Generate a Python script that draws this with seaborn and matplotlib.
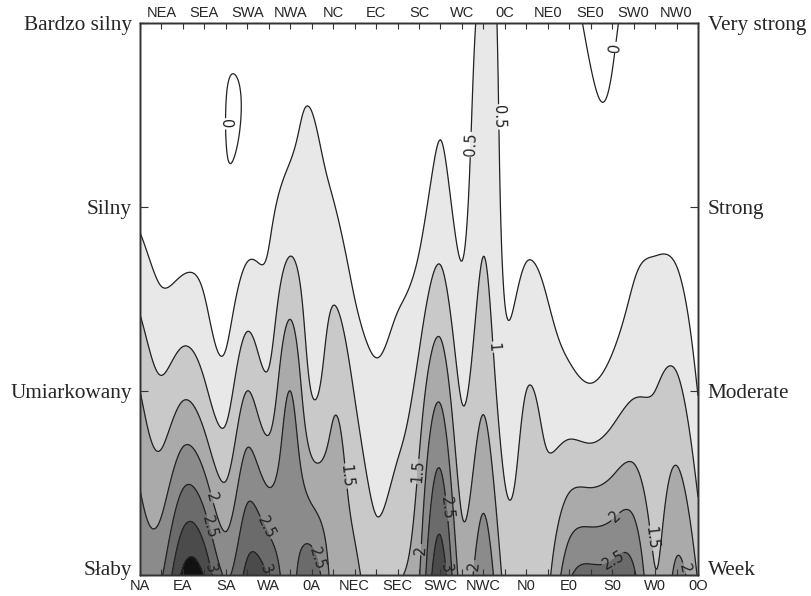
import numpy as np
import seaborn as sns
import matplotlib
matplotlib.use("Agg")
import matplotlib.pyplot as plt

# wind direction / circulation type categories (x axis)
categories = ["NA", "NEA", "EA", "SEA", "SA", "SWA", "WA", "NWA", "0A",
              "NC", "NEC", "EC", "SEC", "SC", "SWC", "WC", "NWC", "0C",
              "N0", "NE0", "E0", "SE0", "S0", "SW0", "W0", "NW0", "0O"]

# intensity classes (y axis), bottom to top
levels_pl = ["Słaby", "Umiarkowany", "Silny", "Bardzo silny"]
levels_en = ["Week", "Moderate", "Strong", "Very strong"]

# values read for each intensity class
slaby = [2.35, 2.45, 3.6, 3.45, 2.45, 3.15, 2.95, 2.35, 2.85,
         1.8, 1.6, 1.2, 1.45, 1.95, 3.3, 1.78, 2.35, 1.35,
         1.3, 1.4, 2.4, 2.65, 2.68, 2.6, 1.52, 2.1, 1.45]
umiarkowany = [1.5, 1.1, 1.4, 1.1, 0.75, 1.5, 1.15, 2.0, 0.98,
               1.4, 0.97, 0.6, 0.75, 1.2, 1.9, 0.95, 1.4, 0.7,
               1.0, 0.8, 0.65, 0.55, 0.72, 0.95, 1.0, 1.1, 0.48]
silny = [0.38, 0.2, 0.2, 0.25, 0.05, 0.22, 0.4, 0.68, 0.62,
         0.53, 0.14, 0.15, 0.25, 0.32, 0.7, 0.38, 0.9, 0.38,
         0.32, 0.25, 0.2, 0.1, 0.13, 0.35, 0.35, 0.3, 0.05]
bardzo_silny = [0.1, 0.05, 0.05, 0.05, 0.035, 0.05, 0.08, 0.4, 0.33,
                0.12, 0.2, 0.05, 0.05, 0.1, 0.38, 0.28, 0.6, 0.38,
                0.2, 0.05, 0.05, -0.04, -0.04, 0.1, 0.1, 0.1, 0.05]

contour_levels = [0, 0.5, 1, 1.5, 2, 2.5, 3, 3.5]
fill_colors = ["#ffffff", "#e8e8e8", "#c9c9c9", "#aaaaaa", "#8b8b8b",
               "#6b6b6b", "#4b4b4b", "#111111"]


def spline_weights(n, per):
    # natural cubic spline smoothing operator (used only for drawing the surface)
    t = np.linspace(0, n - 1, (n - 1) * per + 1)
    W = np.zeros((len(t), n))
    for k in range(n):
        y = np.zeros(n)
        y[k] = 1.0
        M = np.zeros(n)
        if n > 2:
            A = np.zeros((n - 2, n - 2))
            b = np.zeros(n - 2)
            for i in range(1, n - 1):
                A[i - 1, i - 1] = 4
                if i > 1:
                    A[i - 1, i - 2] = 1
                if i < n - 2:
                    A[i - 1, i] = 1
                b[i - 1] = 6 * (y[i - 1] - 2 * y[i] + y[i + 1])
            M[1:-1] = np.linalg.solve(A, b)
        i = np.minimum(np.floor(t).astype(int), n - 2)
        u = t - i
        W[:, k] = ((1 - u) * y[i] + u * y[i + 1]
                   + ((1 - u) ** 3 - (1 - u)) * M[i] / 6
                   + (u ** 3 - u) * M[i + 1] / 6)
    return t, W


Z = np.array([slaby, umiarkowany, silny, bardzo_silny])
xs, Wx = spline_weights(len(categories), 20)
ys, Wy = spline_weights(len(levels_pl), 80)
Zf = Wy @ Z @ Wx.T
X, Y = np.meshgrid(xs, ys)

sns.set_style("white")
fig = plt.figure(figsize=(8.12, 5.96), dpi=100)
ax = fig.add_axes([0.1724, 0.0352, 0.6872, 0.927])
ax.set_axisbelow(False)

ax.contourf(X, Y, Zf, levels=[-5] + contour_levels[1:] + [9],
            colors=fill_colors)
cs = ax.contour(X, Y, Zf, levels=contour_levels, colors="#222222",
                linewidths=0.9)
ax.clabel(cs, fmt="%g", fontsize=10.5, inline=True, inline_spacing=1)

ax.set_xlim(0, len(categories) - 1)
ax.set_ylim(0, len(levels_pl) - 1)

sans = "Liberation Sans"
serif = "Liberation Serif"

ax.set_xticks(range(0, len(categories), 2))
ax.set_xticklabels(categories[0::2], fontname=sans, fontsize=10.5)
ax.set_xticks(range(len(categories)), minor=True)
ax.set_yticks(range(len(levels_pl)))
ax.set_yticklabels(levels_pl, fontname=serif, fontsize=15.3)
ax.get_yticklabels()[0].set_va("baseline")
ax.tick_params(axis="x", which="both", direction="in", length=4, width=0.8,
               pad=3, top=False, bottom=True, color="#333333")
ax.tick_params(axis="y", direction="in", length=6, width=0.8, pad=6,
               left=True, color="#333333")

ax_top = ax.twiny()
ax_top.set_xlim(ax.get_xlim())
ax_top.set_xticks(range(1, len(categories), 2))
ax_top.set_xticklabels(categories[1::2], fontname=sans, fontsize=10.5)
ax_top.set_xticks(range(len(categories)), minor=True)
ax_top.tick_params(axis="x", which="both", direction="in", length=4,
                   width=0.8, pad=2, top=True, color="#333333")

ax_right = ax.twinx()
ax_right.set_ylim(ax.get_ylim())
ax_right.set_yticks(range(len(levels_en)))
ax_right.set_yticklabels(levels_en, fontname=serif, fontsize=15.3)
ax_right.get_yticklabels()[0].set_va("baseline")
ax_right.tick_params(axis="y", direction="in", length=6, width=0.8, pad=7,
                     right=True, color="#333333")

for a in (ax, ax_top, ax_right):
    for s in a.spines.values():
        s.set_color("#333333")
        s.set_linewidth(1.0)

fig.savefig("out.png", dpi=100)
